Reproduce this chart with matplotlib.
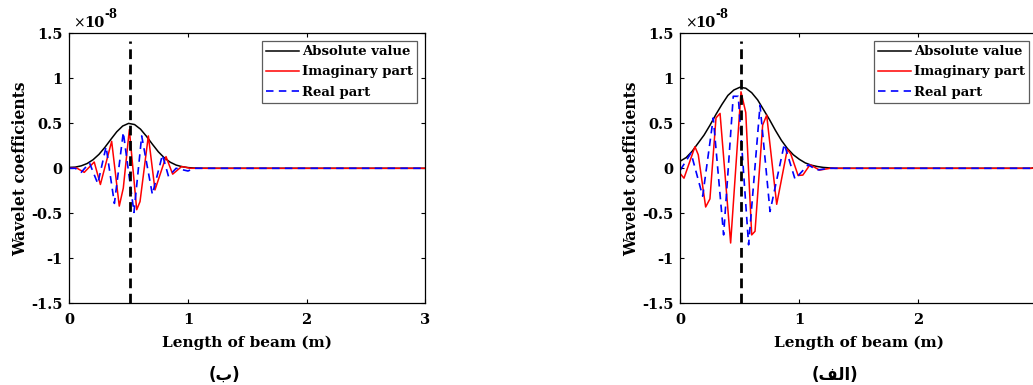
import matplotlib
matplotlib.use('Agg')
import matplotlib.pyplot as plt

# values are in units of 1e-8 (axis multiplier shown as text)
# ---- panel (ب), left
left_abs_x = [0, 0.05, 0.1, 0.15, 0.2, 0.25, 0.3, 0.35, 0.4, 0.45, 0.5, 0.55, 0.6,
              0.65, 0.7, 0.75, 0.8, 0.85, 0.9, 0.95, 1.0, 1.05, 1.1, 1.2, 3.0]
left_abs_y = [0.01, 0.013, 0.027, 0.053, 0.095, 0.155, 0.233, 0.321, 0.406, 0.47, 0.499,
              0.486, 0.435, 0.356, 0.268, 0.184, 0.117, 0.068, 0.036, 0.018, 0.008,
              0.003, 0.001, 0.0, 0.0]
left_imag_x = [0, 0.06, 0.126, 0.21, 0.262, 0.357, 0.421, 0.455, 0.506, 0.568, 0.596,
               0.666, 0.722, 0.815, 0.871, 0.947, 1.02, 1.1, 3.0]
left_imag_y = [0.0, 0.005, -0.045, 0.07, -0.18, 0.30, -0.42, -0.22, 0.43, -0.46, -0.37,
               0.36, -0.24, 0.13, -0.065, 0.02, 0.0, 0.0, 0.0]
left_real_x = [0, 0.05, 0.1, 0.17, 0.24, 0.31, 0.38, 0.455, 0.545, 0.61, 0.70, 0.785,
               0.836, 0.9, 1.0, 1.05, 3.0]
left_real_y = [0.0, 0.0, -0.045, 0.06, -0.17, 0.24, -0.39, 0.40, -0.49, 0.36, -0.29,
               0.15, -0.09, 0.0, -0.03, 0.0, 0.0]

# ---- panel (الف), right
right_abs_x = [0, 0.05, 0.1, 0.15, 0.2, 0.25, 0.3, 0.35, 0.4, 0.45, 0.5, 0.55, 0.6,
               0.65, 0.7, 0.75, 0.8, 0.85, 0.9, 0.95, 1.0, 1.05, 1.1, 1.15, 1.2, 1.3,
               2.95, 3.0]
right_abs_y = [0.08, 0.12, 0.19, 0.28, 0.37, 0.48, 0.60, 0.71, 0.81, 0.87, 0.90, 0.89,
               0.84, 0.76, 0.65, 0.54, 0.42, 0.31, 0.22, 0.15, 0.10, 0.06, 0.035, 0.02,
               0.01, 0.0, 0.0, 0.02]
right_imag_x = [0, 0.031, 0.123, 0.151, 0.213, 0.249, 0.30, 0.334, 0.423, 0.51, 0.55,
                0.60, 0.628, 0.692, 0.726, 0.81, 0.899, 0.928, 0.99, 1.03, 1.09, 1.17,
                1.26, 2.95, 3.0]
right_imag_y = [-0.06, -0.11, 0.24, 0.15, -0.43, -0.34, 0.56, 0.61, -0.83, 0.85, 0.62,
                -0.74, -0.70, 0.48, 0.59, -0.40, 0.21, 0.16, -0.08, -0.075, 0.04, -0.02,
                0.0, 0.0, 0.015]
right_real_x = [0, 0.09, 0.188, 0.277, 0.364, 0.445, 0.487, 0.574, 0.67, 0.754, 0.874,
                0.964, 1.075, 1.146, 1.25, 3.0]
right_real_y = [-0.02, 0.17, -0.31, 0.56, -0.74, 0.80, 0.80, -0.85, 0.70, -0.48, 0.27,
                -0.12, 0.04, -0.02, 0.0, 0.0]

marker_x = 0.51
legend_labels = ['Absolute value', 'Imaginary part', 'Real part']
x_ticks = [0, 1, 2, 3]
y_ticks = [-1.5, -1, -0.5, 0, 0.5, 1, 1.5]
y_tick_labels = ['-1.5', '-1', '-0.5', '0', '0.5', '1', '1.5']
caption_left = '(ب)'
# right caption "(الف)" written with Arabic presentation forms in visual order
caption_right = '(\uFED2\uFEDF\uFE8D)'

plt.rcParams['font.family'] = ['DejaVu Serif', 'DejaVu Sans']
plt.rcParams['font.weight'] = 'bold'

fig = plt.figure(figsize=(10.33, 3.85), dpi=100)
W, H = 1033.0, 385.0


def px_axes(left, top, right, bottom):
    return fig.add_axes([left / W, 1 - bottom / H, (right - left) / W, (bottom - top) / H])


def draw_panel(ax, ax_x, ay, ix, iy, rx, ry):
    ax.plot(ax_x, ay, color='black', lw=1.1, label=legend_labels[0])
    ax.plot(ix, iy, color='#ff0000', lw=1.1, label=legend_labels[1])
    ax.plot(rx, ry, color='#0000ff', lw=1.2, ls=(0, (4.5, 3.2)), label=legend_labels[2])
    ax.plot([marker_x, marker_x], [-1.5, 1.42], color='black', lw=2.0, ls=(0, (3.5, 2.0)))
    ax.set_xlim(0, 3)
    ax.set_ylim(-1.5, 1.5)
    ax.set_xticks(x_ticks)
    ax.set_xticklabels([str(t) for t in x_ticks])
    ax.set_yticks(y_ticks)
    ax.set_yticklabels(y_tick_labels)
    ax.tick_params(direction='in', top=True, right=True, length=3, width=0.8,
                   labelsize=10.5)
    ax.tick_params(axis='x', pad=7)
    ax.tick_params(axis='y', pad=5)
    for s in ax.spines.values():
        s.set_linewidth(0.9)
    ax.set_xlabel('Length of beam (m)', fontsize=11, fontweight='bold', labelpad=6)
    ax.set_ylabel('Wavelet coefficients', fontsize=11.2, fontweight='bold', labelpad=1.5)
    leg = ax.legend(loc='upper right', fontsize=9.5, frameon=True, fancybox=False,
                    edgecolor='#333333', handlelength=2.5, handletextpad=0.25,
                    borderpad=0.3, labelspacing=0.55, borderaxespad=0.6)
    leg.get_frame().set_linewidth(0.9)
    ax.text(0.012, 1.012, '×', transform=ax.transAxes, fontsize=10,
            fontweight='normal', ha='left', va='bottom')
    ax.text(0.042, 1.012, '10', transform=ax.transAxes, fontsize=10.5,
            fontweight='bold', ha='left', va='bottom')
    ax.text(0.098, 1.045, '-8', transform=ax.transAxes, fontsize=8.5,
            fontweight='bold', ha='left', va='bottom')


ax1 = px_axes(69.3, 33.3, 425.3, 303.3)
draw_panel(ax1, left_abs_x, left_abs_y, left_imag_x, left_imag_y, left_real_x, left_real_y)

ax2 = px_axes(680.3, 33.3, 1037.3, 303.3)
draw_panel(ax2, right_abs_x, right_abs_y, right_imag_x, right_imag_y, right_real_x, right_real_y)

# DejaVu Sans Bold carries the Arabic glyphs
fig.text(224 / W, 1 - 375 / H, caption_left, ha='center', va='center', fontsize=12,
         family=['DejaVu Sans'], fontweight='bold')
fig.text(835 / W, 1 - 375 / H, caption_right, ha='center', va='center', fontsize=12,
         family=['DejaVu Sans'], fontweight='bold')

fig.savefig('out.png', dpi=100)
